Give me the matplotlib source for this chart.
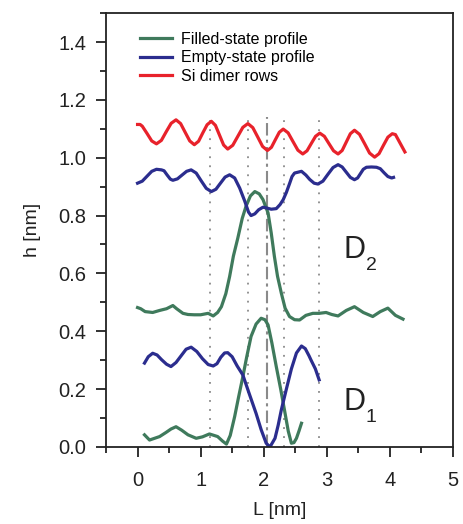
import matplotlib
matplotlib.use("Agg")
import matplotlib.pyplot as plt
from matplotlib.ticker import MultipleLocator

plt.rcParams['font.family'] = ['Liberation Sans', 'DejaVu Sans']

# Si dimer rows (red)
red_L = [0.00, 0.04, 0.075, 0.15, 0.225, 0.30, 0.378, 0.455, 0.533, 0.61, 0.683, 0.755, 0.828,
         0.90, 0.968, 1.035, 1.103, 1.17, 1.235, 1.30, 1.365, 1.43, 1.51, 1.59, 1.67, 1.75,
         1.828, 1.905, 1.983, 2.06, 2.123, 2.185, 2.248, 2.31, 2.388, 2.465, 2.543, 2.62,
         2.688, 2.755, 2.823, 2.89, 2.963, 3.035, 3.108, 3.18, 3.245, 3.31, 3.375, 3.44,
         3.52, 3.60, 3.68, 3.76, 3.83, 3.90, 3.97, 4.04, 4.09, 4.14, 4.19, 4.24]
red_h = [1.115, 1.115, 1.109, 1.084, 1.058, 1.048, 1.060, 1.090, 1.119, 1.131, 1.118, 1.088, 1.058,
         1.045, 1.057, 1.086, 1.114, 1.126, 1.112, 1.078, 1.044, 1.030, 1.043, 1.074, 1.105, 1.118,
         1.104, 1.072, 1.039, 1.025, 1.036, 1.062, 1.088, 1.099, 1.086, 1.056, 1.026, 1.013,
         1.024, 1.049, 1.074, 1.085, 1.074, 1.049, 1.024, 1.013, 1.025, 1.054, 1.083, 1.095,
         1.081, 1.049, 1.016, 1.002, 1.014, 1.043, 1.071, 1.083, 1.080, 1.060, 1.040, 1.020]

# Empty-state profile, D2 (upper blue)
blue2_L = [0.00, 0.075, 0.15, 0.225, 0.30, 0.38, 0.42, 0.47, 0.52, 0.56, 0.633, 0.705, 0.778, 0.85,
           0.93, 1.01, 1.09, 1.17, 1.243, 1.315, 1.388, 1.46, 1.54, 1.62, 1.70, 1.76, 1.80,
           1.86, 1.92, 1.99, 2.05, 2.12, 2.20, 2.26, 2.31, 2.36, 2.41, 2.45, 2.49, 2.60,
           2.67, 2.73, 2.80, 2.86, 2.94, 3.02, 3.10, 3.18, 3.245, 3.31, 3.375, 3.44,
           3.49, 3.535, 3.58, 3.63, 3.71, 3.79, 3.85, 3.91, 3.97, 4.03, 4.06]
blue2_h = [0.912, 0.919, 0.936, 0.953, 0.960, 0.958, 0.955, 0.940, 0.926, 0.922, 0.927, 0.940, 0.953, 0.958,
           0.947, 0.920, 0.894, 0.883, 0.891, 0.912, 0.933, 0.941, 0.930, 0.895, 0.850, 0.812, 0.800,
           0.806, 0.820, 0.829, 0.826, 0.822, 0.824, 0.838, 0.855, 0.880, 0.910, 0.935, 0.947, 0.953,
           0.940, 0.925, 0.912, 0.909, 0.919, 0.943, 0.966, 0.976, 0.968, 0.950, 0.932, 0.924,
           0.930, 0.945, 0.960, 0.967, 0.968, 0.967, 0.962, 0.948, 0.935, 0.930, 0.932]

# Filled-state profile, D2 (upper green)
green2_L = [0.00, 0.05, 0.12, 0.24, 0.35, 0.46, 0.56, 0.62, 0.72, 0.80, 0.90, 1.00, 1.12, 1.20, 1.27,
            1.33, 1.40, 1.46, 1.52, 1.59, 1.66, 1.72, 1.79, 1.86, 1.93, 1.99, 2.07, 2.12, 2.17,
            2.22, 2.28, 2.34, 2.41, 2.49, 2.57, 2.67, 2.78, 2.88, 2.99, 3.08, 3.18, 3.31, 3.44,
            3.58, 3.73, 3.85, 3.97, 4.09, 4.21]
green2_h = [0.482, 0.478, 0.468, 0.465, 0.472, 0.478, 0.489, 0.478, 0.462, 0.458, 0.457, 0.457, 0.462, 0.453, 0.465,
            0.485, 0.530, 0.589, 0.660, 0.722, 0.790, 0.832, 0.868, 0.883, 0.875, 0.855, 0.809, 0.740, 0.659,
            0.590, 0.532, 0.480, 0.451, 0.440, 0.439, 0.455, 0.462, 0.462, 0.465, 0.458, 0.453, 0.472, 0.485,
            0.465, 0.451, 0.468, 0.480, 0.455, 0.442]

# Empty-state profile, D1 (lower blue)
blue1_L = [0.11, 0.17, 0.24, 0.31, 0.38, 0.46, 0.53, 0.61, 0.69, 0.77, 0.85, 0.94, 1.03, 1.12, 1.20,
           1.26, 1.32, 1.38, 1.43, 1.50, 1.58, 1.67, 1.77, 1.88, 1.96, 2.04, 2.10, 2.18, 2.23,
           2.28, 2.36, 2.44, 2.52, 2.60, 2.66, 2.72, 2.75, 2.82, 2.88]
blue1_h = [0.290, 0.312, 0.324, 0.318, 0.302, 0.286, 0.278, 0.292, 0.315, 0.338, 0.345, 0.330, 0.305, 0.285, 0.280,
           0.288, 0.310, 0.325, 0.326, 0.312, 0.280, 0.249, 0.185, 0.116, 0.060, 0.013, 0.000, 0.030, 0.075,
           0.128, 0.200, 0.270, 0.325, 0.349, 0.340, 0.315, 0.301, 0.270, 0.232]

# Filled-state profile, D1 (lower green)
green1_L = [0.11, 0.19, 0.27, 0.35, 0.45, 0.53, 0.61, 0.70, 0.80, 0.93, 1.03, 1.14, 1.27, 1.35, 1.41,
            1.47, 1.54, 1.60, 1.67, 1.73, 1.80, 1.88, 1.96, 2.02, 2.07, 2.13, 2.20, 2.27, 2.33,
            2.39, 2.44, 2.48, 2.52, 2.56, 2.60]
green1_h = [0.042, 0.024, 0.030, 0.036, 0.050, 0.062, 0.070, 0.058, 0.042, 0.030, 0.035, 0.045, 0.036, 0.020, 0.010,
            0.040, 0.105, 0.170, 0.243, 0.310, 0.382, 0.425, 0.445, 0.440, 0.422, 0.360, 0.278, 0.200, 0.128,
            0.055, 0.013, 0.015, 0.030, 0.055, 0.082]

# guide lines
dotted_L = [1.15, 1.75, 2.32, 2.88]
dashdot_L = [2.06]
guide_top = 1.14

green = '#3f7a5c'
blue = '#2b2d8e'
red = '#e8222b'
ink = '#222222'

fig = plt.figure(figsize=(4.63, 5.24), dpi=100)
ax = fig.add_axes([0.229, 0.147, 0.749, 0.828])

for x in dotted_L:
    ax.plot([x, x], [0, guide_top], ls=(0, (1, 4)), color='#8a8a8a', lw=1.3)
for x in dashdot_L:
    ax.plot([x, x], [0, guide_top], ls=(0, (6, 2, 1.5, 2)), color='#8a8a8a', lw=1.5)

lw = 2.3
ax.plot(green2_L, green2_h, color=green, lw=lw, label='Filled-state profile')
ax.plot(blue2_L, blue2_h, color=blue, lw=lw, label='Empty-state profile')
ax.plot(red_L, red_h, color=red, lw=lw, label='Si dimer rows')
ax.plot(green1_L, green1_h, color=green, lw=lw)
ax.plot(blue1_L, blue1_h, color=blue, lw=lw)

# D labels with subscripts
ax.text(3.27, 0.654, 'D', fontsize=22, color=ink)
ax.text(3.62, 0.612, '2', fontsize=14, color=ink)
ax.text(3.27, 0.128, 'D', fontsize=22, color=ink)
ax.text(3.62, 0.085, '1', fontsize=14, color=ink)

ax.set_xlim(-0.5, 5)
ax.set_ylim(0, 1.5)
ax.xaxis.set_major_locator(MultipleLocator(1))
ax.xaxis.set_minor_locator(MultipleLocator(0.5))
ax.yaxis.set_major_locator(MultipleLocator(0.2))
ax.yaxis.set_minor_locator(MultipleLocator(0.1))
ax.yaxis.set_major_formatter(plt.FormatStrFormatter('%.1f'))
ax.tick_params(which='major', length=7, width=1.3, labelsize=14.5, color=ink, labelcolor=ink)
ax.tick_params(which='minor', length=4, width=1.3, color=ink)
ax.tick_params(axis='x', which='major', pad=10)
ax.tick_params(axis='y', which='major', pad=7)
for s in ax.spines.values():
    s.set_linewidth(1.3)
    s.set_color(ink)

ax.set_xlabel('L [nm]', fontsize=14, color=ink, labelpad=9)
ax.set_ylabel('h [nm]', fontsize=14, color=ink, labelpad=13)

ax.legend(loc='upper left', bbox_to_anchor=(0.056, 0.99), frameon=False, fontsize=11.5,
          handlelength=2.0, handletextpad=0.55, labelspacing=0.22)

fig.savefig('out.png', dpi=100)
